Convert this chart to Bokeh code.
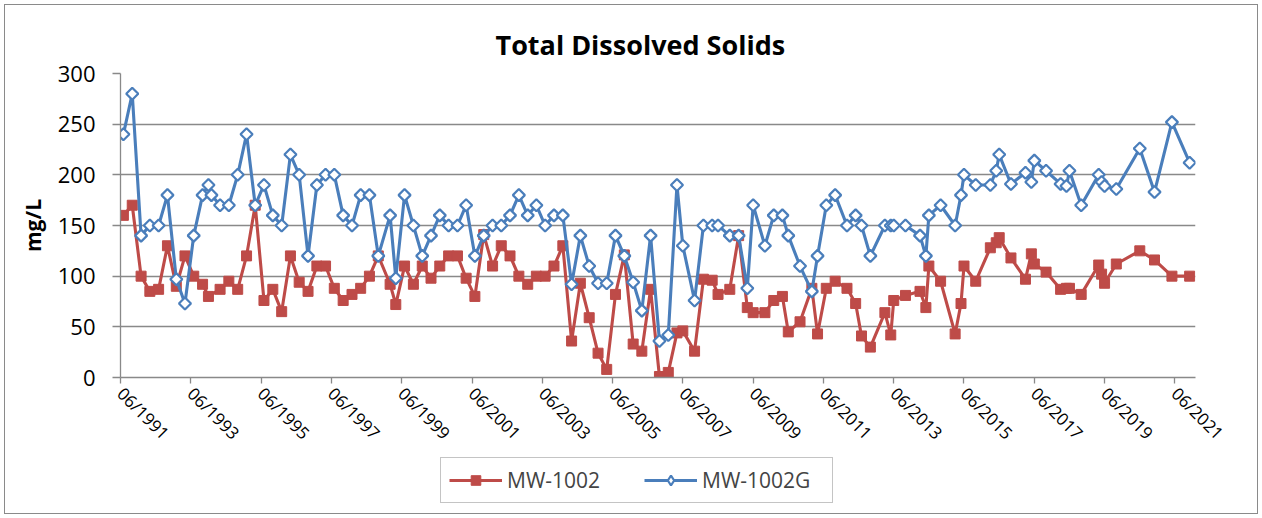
import datetime as dt
import numpy as np
import pandas as pd
from bokeh.plotting import figure
from bokeh.layouts import column
from bokeh.models import (Range1d, FixedTicker, DatetimeTickFormatter, Legend,
                          LegendItem, ColumnDataSource)
from bokeh.embed import file_html
from bokeh.resources import INLINE

# ---------------- data ----------------
dates_mw1002 = [
    "1991-07", "1991-10", "1992-01", "1992-04", "1992-07", "1992-10", "1993-01", "1993-04",
    "1993-07", "1993-10", "1993-12", "1994-04", "1994-07", "1994-10", "1995-01", "1995-04",
    "1995-07", "1995-10", "1996-01", "1996-04", "1996-07", "1996-10", "1997-01", "1997-04",
    "1997-07", "1997-10", "1998-01", "1998-04", "1998-07", "1998-10", "1999-02", "1999-04",
    "1999-07", "1999-10", "2000-01", "2000-04", "2000-07", "2000-10", "2001-01", "2001-04",
    "2001-07", "2001-10", "2002-01", "2002-04", "2002-07", "2002-10", "2003-01", "2003-04",
    "2003-07", "2003-10", "2004-01", "2004-04", "2004-07", "2004-10", "2005-01", "2005-04",
    "2005-07", "2005-10", "2006-01", "2006-04", "2006-07", "2006-10", "2007-01", "2007-04",
    "2007-06", "2007-10", "2008-01", "2008-04", "2008-06", "2008-10", "2009-01", "2009-04",
    "2009-06", "2009-10", "2010-01", "2010-04", "2010-06", "2010-10", "2011-02", "2011-04",
    "2011-07", "2011-10", "2012-02", "2012-05", "2012-07", "2012-10", "2013-03", "2013-05",
    "2013-06", "2013-10", "2014-03", "2014-05", "2014-06", "2014-10", "2015-03", "2015-05",
    "2015-06", "2015-10", "2016-03", "2016-05", "2016-06", "2016-10", "2017-03", "2017-05",
    "2017-06", "2017-10", "2018-03", "2018-05", "2018-06", "2018-10", "2019-04", "2019-05",
    "2019-06", "2019-10", "2020-06", "2020-11", "2021-05", "2021-11",
]
tds_mw1002 = [
    160, 170, 100, 85, 87, 130, 90, 120,
    100, 92, 80, 87, 95, 87, 120, 170,
    76, 87, 65, 120, 94, 85, 110, 110,
    88, 76, 82, 88, 100, 120, 92, 72,
    110, 92, 110, 98, 110, 120, 120, 98,
    80, 141, 110, 130, 120, 100, 92, 100,
    100, 110, 130, 36, 93, 59, 24, 8,
    82, 121, 33, 26, 87, 1, 5, 44,
    46, 26, 97, 96, 82, 87, 140, 69,
    64, 64, 76, 80, 45, 55, 88, 43,
    88, 95, 88, 73, 41, 30, 64, 42,
    76, 81, 85, 69, 110, 95, 43, 73,
    110, 95, 128, 133, 138, 118, 97, 122,
    112, 104, 87, 88, 88, 82, 111, 102,
    93, 112, 125, 116, 100, 100,
]

dates_mw1002g = [
    "1991-07", "1991-10", "1992-01", "1992-04", "1992-07", "1992-10", "1993-01", "1993-04",
    "1993-07", "1993-10", "1993-12", "1994-01", "1994-04", "1994-07", "1994-10", "1995-01",
    "1995-04", "1995-07", "1995-10", "1996-01", "1996-04", "1996-07", "1996-10", "1997-01",
    "1997-04", "1997-07", "1997-10", "1998-01", "1998-04", "1998-07", "1998-10", "1999-02",
    "1999-04", "1999-07", "1999-10", "2000-01", "2000-04", "2000-07", "2000-10", "2001-01",
    "2001-04", "2001-07", "2001-10", "2002-01", "2002-04", "2002-07", "2002-10", "2003-01",
    "2003-04", "2003-07", "2003-10", "2004-01", "2004-04", "2004-07", "2004-10", "2005-01",
    "2005-04", "2005-07", "2005-10", "2006-01", "2006-04", "2006-07", "2006-10", "2007-01",
    "2007-04", "2007-06", "2007-10", "2008-01", "2008-04", "2008-06", "2008-10", "2009-01",
    "2009-04", "2009-06", "2009-10", "2010-01", "2010-04", "2010-06", "2010-10", "2011-02",
    "2011-04", "2011-07", "2011-10", "2012-02", "2012-05", "2012-07", "2012-10", "2013-03",
    "2013-05", "2013-06", "2013-10", "2014-03", "2014-05", "2014-06", "2014-10", "2015-03",
    "2015-05", "2015-06", "2015-10", "2016-03", "2016-05", "2016-06", "2016-10", "2017-03",
    "2017-05", "2017-06", "2017-10", "2018-03", "2018-05", "2018-06", "2018-10", "2019-04",
    "2019-05", "2019-06", "2019-10", "2020-06", "2020-11", "2021-05", "2021-11",
]
tds_mw1002g = [
    240, 280, 140, 150, 150, 180, 97, 73,
    140, 180, 190, 180, 170, 170, 200, 240,
    170, 190, 160, 150, 220, 200, 120, 190,
    200, 200, 160, 150, 180, 180, 120, 160,
    98, 180, 150, 120, 140, 160, 150, 150,
    170, 120, 140, 150, 150, 160, 180, 160,
    170, 150, 160, 160, 92, 140, 110, 93,
    93, 140, 120, 94, 66, 140, 36, 42,
    190, 130, 76, 150, 150, 150, 140, 140,
    88, 170, 130, 160, 160, 140, 110, 85,
    120, 170, 180, 150, 160, 150, 120, 150,
    150, 150, 150, 140, 120, 160, 170, 150,
    180, 200, 190, 190, 204, 220, 191, 202,
    193, 214, 204, 191, 189, 204, 170, 200,
    193, 189, 186, 226, 183, 252, 212,
]

series_names = ["MW-1002", "MW-1002G"]
x_tick_years = list(range(1991, 2022, 2))
y_ticks = [0, 50, 100, 150, 200, 250, 300]
title_text = "Total Dissolved Solids"
y_label = "mg/L"

# ---------------- styling ----------------
FONT = "Open Sans"
RED = "#BE4B48"
BLUE = "#4A7EBB"
GRAY = "#898989"
W = 1252
LW = 3.1

src_r = ColumnDataSource(dict(x=pd.to_datetime(dates_mw1002), y=tds_mw1002))
src_b = ColumnDataSource(dict(x=pd.to_datetime(dates_mw1002g), y=tds_mw1002g))


def draw_series(fig, key=False):
    rl = fig.line("x", "y", source=src_r, line_color=RED, line_width=LW)
    rs = fig.scatter("x", "y", source=src_r, marker="square", size=10,
                     fill_color=RED, line_color=RED, line_width=1)
    bl = fig.line("x", "y", source=src_b, line_color=BLUE, line_width=LW)
    if key:
        bs = fig.scatter("x", "y", source=src_b, marker="diamond", size=14,
                         fill_color="white", line_color=BLUE, line_width=2.2)
    else:
        bs = fig.scatter("x", "y", source=src_b, marker="square", angle=np.pi / 4,
                         size=8.5, fill_color="white", line_color=BLUE, line_width=2.2)
    return rl, rs, bl, bs


p = figure(width=W, height=450, x_axis_type="datetime",
           x_range=Range1d(dt.datetime(1991, 6, 1), dt.datetime(2022, 1, 1)),
           y_range=Range1d(0, 300),
           output_backend="svg", toolbar_location=None,
           min_border_left=115, min_border_right=62,
           min_border_top=68, min_border_bottom=78)
p.outline_line_color = None
p.background_fill_color = "white"
p.border_fill_color = "white"

# title
p.title.text = title_text
p.title.text_font = FONT
p.title.text_font_style = "bold"
p.title.text_font_size = "27px"
p.title.text_color = "black"
p.title.align = "left"
p.title.offset = 375
p.title.standoff = 21

p.xgrid.visible = False
p.ygrid.grid_line_color = GRAY
p.ygrid.grid_line_width = 1.3

# y axis
p.yaxis.ticker = FixedTicker(ticks=y_ticks)
p.yaxis.minor_tick_line_color = None
p.yaxis.major_tick_in = 0
p.yaxis.major_tick_out = 8
p.yaxis.major_tick_line_color = GRAY
p.yaxis.major_tick_line_width = 1.3
p.yaxis.axis_line_color = GRAY
p.yaxis.axis_line_width = 1.3
p.yaxis.major_label_text_font = FONT
p.yaxis.major_label_text_font_size = "22px"
p.yaxis.major_label_text_color = "black"
p.yaxis.major_label_standoff = 17
p.yaxis.axis_label = y_label
p.yaxis.axis_label_text_font = FONT
p.yaxis.axis_label_text_font_style = "bold"
p.yaxis.axis_label_text_font_size = "21px"
p.yaxis.axis_label_text_color = "black"
p.yaxis.axis_label_standoff = 8

# x axis
tick_ms = [pd.Timestamp(f"{yr}-06-01").value // 10**6 for yr in x_tick_years]
p.xaxis.ticker = FixedTicker(ticks=tick_ms)
fmt = "%m/%Y"
p.xaxis.formatter = DatetimeTickFormatter(
    microseconds=fmt, milliseconds=fmt, seconds=fmt, minsec=fmt, minutes=fmt,
    hourmin=fmt, hours=fmt, days=fmt, months=fmt, years=fmt)
p.xaxis.minor_tick_line_color = None
p.xaxis.major_tick_in = 0
p.xaxis.major_tick_out = 6
p.xaxis.major_tick_line_color = GRAY
p.xaxis.major_tick_line_width = 1.3
p.xaxis.axis_line_color = GRAY
p.xaxis.axis_line_width = 1.3
p.xaxis.major_label_orientation = -np.pi / 4
p.xaxis.major_label_text_font = FONT
p.xaxis.major_label_text_font_size = "17px"
p.xaxis.major_label_text_color = "black"
p.xaxis.major_label_standoff = 7

# series (MW-1002G drawn on top, as in the reference)
draw_series(p)

# ---------------- legend strip (own small canvas, no axes) ----------------
# same series drawn again but far outside this strip's ranges, only for the key
lf = figure(width=W, height=58, x_range=Range1d(0, 1), y_range=Range1d(0, 1),
            output_backend="svg", toolbar_location=None,
            x_axis_location=None, y_axis_location=None,
            min_border_left=0, min_border_right=0, min_border_top=0, min_border_bottom=0)
lf.grid.visible = False
lf.outline_line_color = None
lf.background_fill_color = "white"
lf.border_fill_color = "white"
klr, ksr, klb, ksb = draw_series(lf, key=True)
legend = Legend(items=[LegendItem(label=series_names[0], renderers=[klr, ksr]),
                       LegendItem(label=series_names[1], renderers=[klb, ksb])],
                orientation="horizontal", location=(320, 10),
                glyph_width=53, glyph_height=24, label_standoff=5,
                label_width=122, spacing=15, padding=8, margin=0,
                label_text_font=FONT, label_text_font_size="21px",
                border_line_color=GRAY, border_line_width=1.3,
                background_fill_color="white", background_fill_alpha=1)
lf.add_layout(legend, "center")

layout = column(p, lf, spacing=0,
                styles={"border": "1px solid #8a8a8a", "margin": "4px"})

open("out.html", "w").write(file_html(layout, INLINE))
